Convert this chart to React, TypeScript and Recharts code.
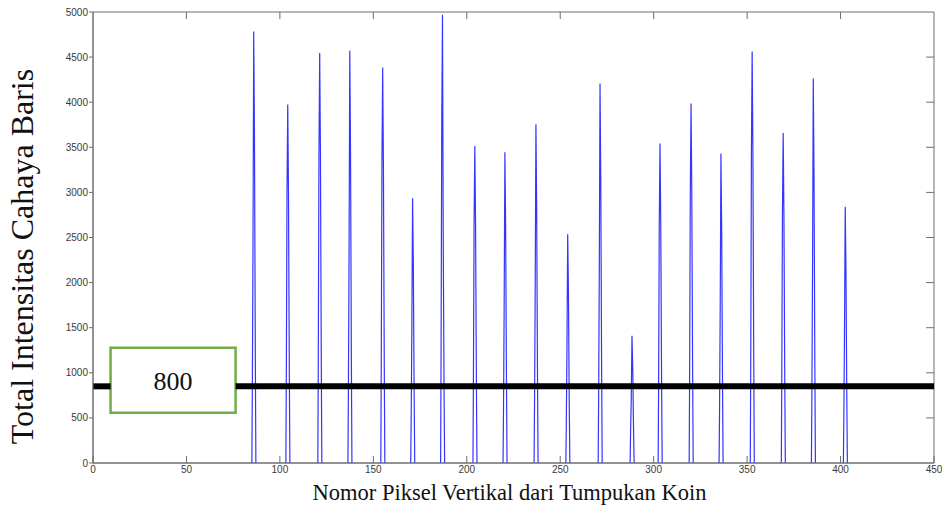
import React from 'react';
import { LineChart, Line, XAxis, YAxis, ReferenceLine, ReferenceArea } from 'recharts';

// Peak positions (pixel row index) and intensity levels
const peakCenters = [86, 104.2, 121.3, 137.4, 155, 171, 187, 204.3, 220.4, 237, 254, 271.3, 288.4, 303.4, 320, 336, 352.7, 369.3, 385.4, 402.5];
const peakTops = [4785, 3975, 4545, 4570, 4385, 2935, 4970, 3515, 3444, 3755, 2537, 4207, 1411, 3541, 3985, 3430, 4563, 3659, 4263, 2841];
const leftLow = [790, 1000, 1140, 755, 1100, 490, 1243, 880, 580, 630, 420, 700, 350, 880, 1000, 570, 1144, 915, 707, 478];
const leftHigh = [2390, 2980, 3410, 2280, 3280, 1470, 3719, 2633, 1720, 1870, 1270, 2100, 700, 2644, 2978, 1711, 3419, 2744, 2126, 1422];
const rightHigh = [3590, 2980, 3410, 3420, 3280, 2200, 2485, 2633, 2585, 2810, 1893, 3144, 1052, 2644, 2978, 2563, 3419, 2744, 3200, 2126];
const rightLow = [1200, 1000, 1140, 1145, 1100, 740, 800, 880, 860, 935, 630, 1052, 350, 880, 1000, 855, 1144, 915, 1063, 707];
const sampleOffsets = [-1, -0.75, -0.4, 0, 0.4, 0.85, 1.15];

const xTicks = [0, 50, 100, 150, 200, 250, 300, 350, 400, 450];
const yTicks = [0, 500, 1000, 1500, 2000, 2500, 3000, 3500, 4000, 4500, 5000];
const xDomain = [0, 450];
const yDomain = [0, 5000];
const thresholdValue = 850;
const thresholdLabel = '800';
const labelBoxXRange = [9.4, 76.3];
const labelBoxYRange = [556, 1278];

const xTitle = 'Nomor Piksel Vertikal dari Tumpukan Koin';
const yTitle = 'Total Intensitas Cahaya Baris';

type Pt = { x: number; y: number | null };
const data: Pt[] = [];
peakCenters.forEach((c, i) => {
  const vals = [0, leftLow[i], leftHigh[i], peakTops[i], rightHigh[i], rightLow[i], 0];
  sampleOffsets.forEach((o, k) => data.push({ x: +(c + o).toFixed(2), y: vals[k] }));
  data.push({ x: +(c + 1.5).toFixed(2), y: null });
});

const AXIS = '#6e6e6e';
const tickFont = { fontSize: 10, fill: '#3a3a3a', fontFamily: '"Liberation Sans", Arial, sans-serif' };
const serif = '"Liberation Serif", "Times New Roman", serif';

// inward tick length for the top/right frame, expressed in axis units (~7px)
const TOP_TICK = 78;
const RIGHT_TICK = 4.2;

const XTitle = (props: any) => {
  const vb = props.viewBox || {};
  return (
    <text x={vb.x + vb.width / 2 - 4} y={500} textAnchor="middle" fontFamily={serif} fontSize={22.5} fill="#111">
      {xTitle}
    </text>
  );
};

const YTitle = (props: any) => {
  const vb = props.viewBox || {};
  const cy = vb.y + vb.height / 2 + 19;
  return (
    <text x={33} y={cy} transform={`rotate(-90, 33, ${cy})`} textAnchor="middle" fontFamily={serif} fontSize={32} fill="#111">
      {yTitle}
    </text>
  );
};

export default function App() {
  const innerX = xTicks.slice(1, -1);
  const innerY = yTicks.slice(1, -1);
  return (
    <div style={{ position: 'absolute', left: 0, top: 0, width: 942, height: 506, background: '#fff' }}>
      <LineChart width={942} height={506} data={data} margin={{ top: 12, right: 8, bottom: 0, left: 33 }}>
        <XAxis
          type="number"
          dataKey="x"
          domain={xDomain}
          ticks={xTicks}
          allowDataOverflow
          height={43}
          stroke={AXIS}
          tickSize={-7}
          tickMargin={10}
          tick={tickFont}
          tickLine={{ stroke: AXIS }}
          label={{ content: XTitle }}
        />
        <YAxis
          type="number"
          domain={yDomain}
          ticks={yTicks}
          allowDataOverflow
          width={60}
          stroke={AXIS}
          tickSize={4}
          tickMargin={1}
          tick={tickFont}
          tickLine={{ stroke: AXIS }}
          label={{ content: YTitle }}
        />
        <ReferenceArea
          x1={xDomain[0]}
          x2={xDomain[1]}
          y1={yDomain[0]}
          y2={yDomain[1]}
          fill="none"
          stroke={AXIS}
          strokeWidth={1}
        />
        {innerX.map((t) => (
          <ReferenceLine
            key={'tx' + t}
            segment={[{ x: t, y: yDomain[1] }, { x: t, y: yDomain[1] - TOP_TICK }]}
            stroke={AXIS}
            strokeWidth={1}
          />
        ))}
        {innerY.map((t) => (
          <ReferenceLine
            key={'ty' + t}
            segment={[{ x: xDomain[1], y: t }, { x: xDomain[1] - RIGHT_TICK, y: t }]}
            stroke={AXIS}
            strokeWidth={1}
          />
        ))}
        <Line
          type="linear"
          dataKey="y"
          stroke="#3535ff"
          strokeWidth={1.2}
          dot={false}
          activeDot={false}
          connectNulls={false}
          isAnimationActive={false}
        />
        <ReferenceLine
          segment={[{ x: xDomain[0], y: thresholdValue }, { x: labelBoxXRange[0], y: thresholdValue }]}
          stroke="#000"
          strokeWidth={6}
        />
        <ReferenceLine
          segment={[{ x: labelBoxXRange[1], y: thresholdValue }, { x: xDomain[1], y: thresholdValue }]}
          stroke="#000"
          strokeWidth={6}
        />
        <ReferenceArea
          x1={labelBoxXRange[0]}
          x2={labelBoxXRange[1]}
          y1={labelBoxYRange[0]}
          y2={labelBoxYRange[1]}
          fill="#fff"
          fillOpacity={1}
          stroke="#70ad47"
          strokeWidth={2.5}
          label={{ value: thresholdLabel, position: 'center', fontSize: 26, fontFamily: serif, fill: '#111' }}
        />
      </LineChart>
    </div>
  );
}
